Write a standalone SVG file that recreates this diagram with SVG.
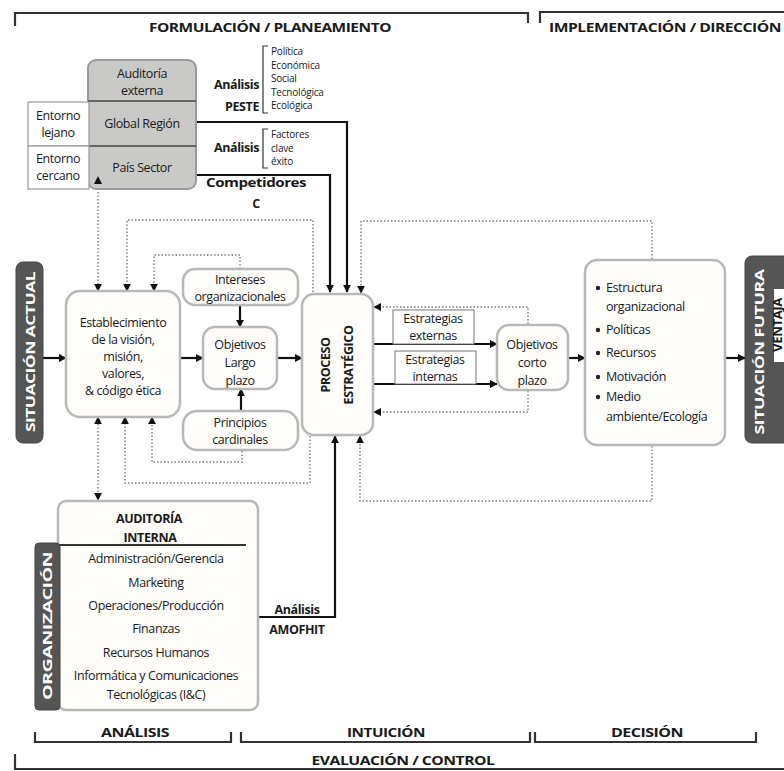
<svg xmlns="http://www.w3.org/2000/svg" width="784" height="771" viewBox="0 0 784 771">
<defs>
<marker id="ah" viewBox="0 0 10 10" refX="9" refY="5" markerWidth="8" markerHeight="8" markerUnits="userSpaceOnUse" orient="auto-start-reverse"><path d="M0,0 L10,5 L0,10 z" fill="#111"/></marker>
<style>
.t{font-family:"Open Sans","Liberation Sans",sans-serif;font-size:12.5px;fill:#1a1a1a;text-anchor:middle;letter-spacing:-0.4px}
.s{font-size:10px;text-anchor:start;letter-spacing:-0.2px}
.l{text-anchor:start}
.b{font-weight:bold}
.w{fill:#fff;font-weight:bold}
.box{fill:#fefdfa;stroke:#b8b8b8;stroke-width:2.5}
.dark{fill:#555;stroke:#444;stroke-width:1}
.brk{fill:none;stroke:#333;stroke-width:2.2}
.sol{fill:none;stroke:#111;stroke-width:2.2}
.dot{fill:none;stroke:#7a7a7a;stroke-width:1.4;stroke-dasharray:1.5 2}
.thin{fill:none;stroke:#333;stroke-width:1.2}
</style>
</defs>
<rect width="784" height="771" fill="#fff"/>

<g id="top-brackets">
<path class="brk" d="M15,26 V13 H528 V23"/>
<text class="t b" x="270" y="32" font-size="13" textLength="242" lengthAdjust="spacingAndGlyphs">FORMULACIÓN / PLANEAMIENTO</text>
<path class="brk" d="M540,23 V12 H784"/>
<text class="t b" x="665" y="32" font-size="13" textLength="232" lengthAdjust="spacingAndGlyphs">IMPLEMENTACIÓN / DIRECCIÓN</text>
</g>

<g id="connectors">
<path class="sol" d="M196,122 H347 V292" marker-end="url(#ah)"/>
<path class="sol" d="M196,175 H330 V292" marker-end="url(#ah)"/>
<path class="sol" d="M43,358 H66" marker-end="url(#ah)"/>
<path class="sol" d="M181,358 H203" marker-end="url(#ah)"/>
<path class="sol" d="M278,358 H302" marker-end="url(#ah)"/>
<path class="sol" d="M240,306 V327" marker-end="url(#ah)"/>
<path class="sol" d="M241,411 V389" marker-end="url(#ah)"/>
<path class="sol" d="M374,344 H497" marker-end="url(#ah)"/>
<path class="sol" d="M374,384 H497" marker-end="url(#ah)"/>
<path class="sol" d="M569,358 H585" marker-end="url(#ah)"/>
<path class="sol" d="M726,358 H745" marker-end="url(#ah)"/>
<path class="sol" d="M258,617 H335 V436" marker-end="url(#ah)"/>

<path class="dot" d="M98,178 V291" marker-start="url(#ah)" marker-end="url(#ah)"/>
<path class="dot" d="M313,292 V220 H127 V291" marker-end="url(#ah)"/>
<path class="dot" d="M240,269 V255 H154 V291" marker-end="url(#ah)"/>
<path class="dot" d="M98,417 V500" marker-start="url(#ah)" marker-end="url(#ah)"/>
<path class="dot" d="M310,436 V483 H125 V417" marker-end="url(#ah)"/>
<path class="dot" d="M242,451 V462 H152 V417" marker-end="url(#ah)"/>
<path class="dot" d="M652,259 V221 H361 V293" marker-end="url(#ah)"/>
<path class="dot" d="M652,446 V501 H360 V436" marker-end="url(#ah)"/>
<path class="dot" d="M528,324 V307 H374" marker-end="url(#ah)"/>
<path class="dot" d="M528,391 V412 H374" marker-end="url(#ah)"/>
</g>

<g id="auditoria-externa">
<rect x="88" y="60" width="108" height="129" rx="8" fill="#c9c9c7" stroke="#9a9a9a" stroke-width="2"/>
<line x1="88" y1="101" x2="196" y2="101" stroke="#444" stroke-width="1.5"/>
<line x1="28" y1="146" x2="196" y2="146" stroke="#444" stroke-width="1.5"/>
<text class="t" x="142" y="78">Auditoría</text>
<text class="t" x="142" y="95">externa</text>
<text class="t" x="142" y="128">Global Región</text>
<text class="t" x="142" y="172">País Sector</text>
</g>
<g id="entorno-lejano">
<rect x="28" y="102" width="61" height="44" fill="#fff" stroke="#999" stroke-width="1.2"/>
<text class="t" x="58" y="120">Entorno</text>
<text class="t" x="58" y="137">lejano</text>
</g>
<g id="entorno-cercano">
<rect x="28" y="146" width="61" height="43" fill="#fff" stroke="#999" stroke-width="1.2"/>
<text class="t" x="58" y="163">Entorno</text>
<text class="t" x="58" y="180">cercano</text>
</g>
<path d="M94,184 L98,176 L102,184 z" fill="#111"/>

<g id="analisis-peste">
<text class="t b" x="259" y="89" font-size="13.5" style="text-anchor:end">Análisis</text>
<text class="t b" x="259" y="111" font-size="13.5" style="text-anchor:end">PESTE</text>
<path class="thin" d="M268,46 H263 V113 H268"/>
<text class="t s" x="271" y="55">Política</text>
<text class="t s" x="271" y="68.5">Económica</text>
<text class="t s" x="271" y="82">Social</text>
<text class="t s" x="271" y="95.5">Tecnológica</text>
<text class="t s" x="271" y="109">Ecológica</text>
</g>
<g id="analisis-fce">
<text class="t b" x="259" y="152" font-size="13.5" style="text-anchor:end">Análisis</text>
<path class="thin" d="M268,129 H263 V168 H268"/>
<text class="t s" x="271" y="138">Factores</text>
<text class="t s" x="271" y="151.5">clave</text>
<text class="t s" x="271" y="165">éxito</text>
</g>
<g id="competidores">
<text class="t b" x="256" y="187" font-size="14" textLength="100" lengthAdjust="spacingAndGlyphs">Competidores</text>
<text class="t b" x="256" y="208" font-size="14">C</text>
</g>

<g id="situacion-actual">
<rect class="dark" x="16" y="262" width="27" height="181" rx="7"/>
<text class="t w" transform="translate(30,352) rotate(-90)" y="4.5" font-size="12" textLength="160" lengthAdjust="spacingAndGlyphs">SITUACIÓN ACTUAL</text>
</g>

<g id="establecimiento">
<rect class="box" x="66" y="291" width="114" height="126" rx="14"/>
<text class="t" x="123" y="327">Establecimiento</text>
<text class="t" x="123" y="344">de la visión,</text>
<text class="t" x="123" y="361">misión,</text>
<text class="t" x="123" y="378">valores,</text>
<text class="t" x="123" y="395" font-size="11.5">&amp; código ética</text>
</g>

<g id="intereses">
<rect class="box" x="183" y="269" width="115" height="36" rx="12"/>
<text class="t" x="240" y="284">Intereses</text>
<text class="t" x="240" y="301">organizacionales</text>
</g>

<g id="objetivos-largo">
<rect class="box" x="203" y="327" width="74" height="62" rx="12"/>
<text class="t" x="240" y="349">Objetivos</text>
<text class="t" x="240" y="367">Largo</text>
<text class="t" x="240" y="385">plazo</text>
</g>

<g id="principios">
<rect class="box" x="183" y="411" width="115" height="39" rx="14"/>
<text class="t" x="240" y="427">Principios</text>
<text class="t" x="240" y="444">cardinales</text>
</g>

<g id="proceso">
<rect class="box" x="302" y="294" width="71" height="141" rx="12"/>
<g transform="translate(337,365) rotate(-90)">
<text class="t b" y="-7" font-size="13">PROCESO</text>
<text class="t b" y="16" font-size="13">ESTRATÉGICO</text>
</g>
</g>

<g id="estrategias-externas">
<rect x="393" y="310" width="81" height="34" fill="#fff" stroke="#777" stroke-width="1"/>
<text class="t" x="433" y="323">Estrategias</text>
<text class="t" x="433" y="340">externas</text>
</g>
<g id="estrategias-internas">
<rect x="395" y="351" width="81" height="33" fill="#fff" stroke="#777" stroke-width="1"/>
<text class="t" x="435" y="364">Estrategias</text>
<text class="t" x="435" y="381">internas</text>
</g>

<g id="objetivos-corto">
<rect class="box" x="497" y="325" width="71" height="65" rx="12"/>
<text class="t" x="532" y="349">Objetivos</text>
<text class="t" x="532" y="367">corto</text>
<text class="t" x="532" y="385">plazo</text>
</g>

<g id="implementacion">
<rect class="box" x="585" y="260" width="140" height="185" rx="12"/>
<circle cx="598" cy="288" r="2.2" fill="#222"/><text class="t l" x="606" y="292">Estructura</text>
<text class="t l" x="606" y="311">organizacional</text>
<circle cx="598" cy="330" r="2.2" fill="#222"/><text class="t l" x="606" y="334">Políticas</text>
<circle cx="598" cy="353" r="2.2" fill="#222"/><text class="t l" x="606" y="357">Recursos</text>
<circle cx="598" cy="377" r="2.2" fill="#222"/><text class="t l" x="606" y="381">Motivación</text>
<circle cx="598" cy="397" r="2.2" fill="#222"/><text class="t l" x="606" y="401">Medio</text>
<text class="t l" x="606" y="421">ambiente/Ecología</text>
</g>

<g id="situacion-futura">
<rect class="dark" x="745" y="256" width="55" height="187" rx="7"/>
<text class="t w" transform="translate(759,352) rotate(-90)" y="4.5" font-size="12" textLength="165" lengthAdjust="spacingAndGlyphs">SITUACIÓN FUTURA</text>
<rect x="774" y="289" width="15" height="73" fill="#fff"/>
<text class="t b" transform="translate(779,325) rotate(-90)" y="2.5" font-size="7" textLength="54" lengthAdjust="spacingAndGlyphs">VENTAJA</text>
</g>

<g id="auditoria-interna">
<rect class="box" x="58" y="501" width="200" height="209" rx="8"/>
<text class="t b" x="149" y="523" font-size="14">AUDITORÍA</text>
<text class="t b" x="150" y="542" font-size="14">INTERNA</text>
<line x1="59" y1="545" x2="246" y2="545" stroke="#333" stroke-width="2"/>
<text class="t" x="156" y="563">Administración/Gerencia</text>
<text class="t" x="156" y="587">Marketing</text>
<text class="t" x="156" y="610">Operaciones/Producción</text>
<text class="t" x="156" y="633">Finanzas</text>
<text class="t" x="156" y="657">Recursos Humanos</text>
<text class="t" x="156" y="680">Informática y Comunicaciones</text>
<text class="t" x="156" y="699">Tecnológicas (I&amp;C)</text>
</g>
<g id="organizacion">
<rect class="dark" x="35" y="543" width="25" height="167" rx="4"/>
<text class="t w" transform="translate(48,626) rotate(-90)" y="4" font-size="11" textLength="148" lengthAdjust="spacingAndGlyphs">ORGANIZACIÓN</text>
</g>
<g id="amofhit">
<text class="t b" x="297" y="614" font-size="12.5">Análisis</text>
<text class="t b" x="297" y="634" font-size="13">AMOFHIT</text>
</g>

<g id="bottom-brackets">
<path class="brk" d="M35,732 V742 H231 V732"/>
<text class="t b" x="135" y="737" font-size="13" textLength="68" lengthAdjust="spacingAndGlyphs">ANÁLISIS</text>
<path class="brk" d="M241,732 V742 H530 V732"/>
<text class="t b" x="386" y="737" font-size="13" textLength="78" lengthAdjust="spacingAndGlyphs">INTUICIÓN</text>
<path class="brk" d="M535,732 V742 H756 V732"/>
<text class="t b" x="647" y="737" font-size="13" textLength="72" lengthAdjust="spacingAndGlyphs">DECISIÓN</text>
<path class="brk" d="M15,754 V769 H784"/>
<text class="t b" x="403" y="765" font-size="13" textLength="183" lengthAdjust="spacingAndGlyphs">EVALUACIÓN / CONTROL</text>
</g>
</svg>
